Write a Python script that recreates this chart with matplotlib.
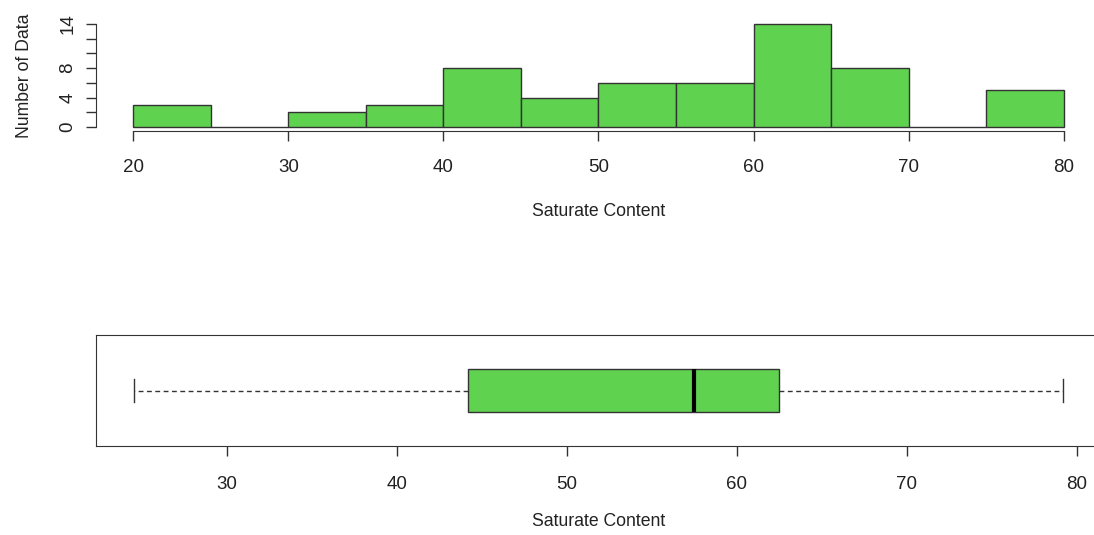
import matplotlib.pyplot as plt
import numpy as np

# histogram of saturate content, 5-unit bins
bin_edges = [20, 25, 30, 35, 40, 45, 50, 55, 60, 65, 70, 75, 80]
counts = [3, 0, 2, 3, 8, 4, 6, 6, 14, 8, 0, 5]
hist_xticks = [20, 30, 40, 50, 60, 70, 80]
hist_yticks = [0, 2, 4, 6, 8, 10, 12, 14]
hist_ylabels = ['0', '', '4', '', '8', '', '', '14']

# five-number summary for the boxplot
whisker_lo = 24.5
q1 = 44.2
med = 57.5
q3 = 62.5
whisker_hi = 79.2
box_xticks = [30, 40, 50, 60, 70, 80]

fill = '#5fd24f'
edge = '#333333'
txt = '#222222'

plt.rcParams['font.family'] = ['Liberation Sans', 'DejaVu Sans']

fig = plt.figure(figsize=(10.94, 5.35), dpi=100)

# --- histogram ---
ax1 = fig.add_axes([96 / 1094, 1 - 131 / 535, 1005 / 1094, 111 / 535])
lefts = np.array(bin_edges[:-1])
widths = np.diff(bin_edges)
ax1.bar(lefts, counts, width=widths, align='edge', color=fill,
        edgecolor=edge, linewidth=1.0)
ax1.set_xlim(17.6, 82.4)
ax1.set_ylim(-0.56, 14.56)
for s in ['top', 'right']:
    ax1.spines[s].set_visible(False)
ax1.spines['left'].set_bounds(0, 14)
ax1.spines['bottom'].set_bounds(20, 80)
ax1.spines['left'].set_color(edge)
ax1.spines['bottom'].set_color(edge)
ax1.set_xticks(hist_xticks)
ax1.set_yticks(hist_yticks)
ax1.set_yticklabels(hist_ylabels, rotation=90, va='center')
ax1.tick_params(axis='both', length=7.2, width=1.0, color=edge,
                labelsize=13.5, labelcolor=txt)
ax1.tick_params(axis='x', pad=13)
ax1.tick_params(axis='y', pad=7)
ax1.set_xlabel('Saturate Content', fontsize=12.7, color=txt, labelpad=19.5)
ax1.set_ylabel('Number of Data', fontsize=12.7, color=txt, labelpad=19)

# --- boxplot ---
ax2 = fig.add_axes([96 / 1094, 1 - 446 / 535, 1005 / 1094, 111 / 535])
stats = [dict(whislo=whisker_lo, q1=q1, med=med, q3=q3, whishi=whisker_hi,
              fliers=[])]
ax2.bxp(stats, positions=[1], widths=0.38, capwidths=0.2,
        orientation='horizontal', patch_artist=True, showfliers=False,
        boxprops=dict(facecolor=fill, edgecolor=edge, linewidth=1.0),
        medianprops=dict(color='black', linewidth=3, solid_capstyle='butt'),
        whiskerprops=dict(color=edge, linewidth=1.0, linestyle=(0, (3.5, 2.5))),
        capprops=dict(color=edge, linewidth=1.0))
ax2.set_xlim(22.28, 81.43)
ax2.set_ylim(0.5, 1.5)
ax2.set_yticks([])
ax2.set_xticks(box_xticks)
for s in ax2.spines.values():
    s.set_color(edge)
ax2.tick_params(axis='x', length=7.2, width=1.0, color=edge, labelsize=13.5,
                labelcolor=txt, pad=14.3)
ax2.set_xlabel('Saturate Content', fontsize=12.7, color=txt, labelpad=14.5)

fig.savefig('out.png', dpi=100)
